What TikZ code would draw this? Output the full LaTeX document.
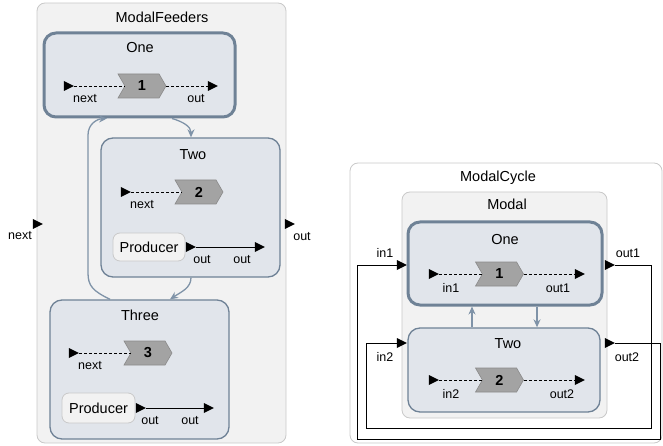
\documentclass[tikz,border=0pt]{standalone}
\usepackage{fontspec}
\setmainfont{Liberation Sans}
\usetikzlibrary{shapes.geometric,shapes.symbols,arrows.meta}
\definecolor{boxgray}{HTML}{F2F2F2}
\definecolor{boxline}{HTML}{C9C9C9}
\definecolor{modefill}{HTML}{E1E5EB}
\definecolor{modeline}{HTML}{6F8296}
\definecolor{transcol}{HTML}{7F93A8}
\definecolor{chevgray}{HTML}{A3A3A3}
\definecolor{chevline}{HTML}{8A8A8A}
\newcommand{\portsize}{10pt}
\newcommand{\titlefont}{\fontsize{14.5}{16}\selectfont}
\newcommand{\labelfont}{\fontsize{12.5}{14}\selectfont}

\begin{document}
\begin{tikzpicture}[x=1pt,y=-1pt,
    container/.style={draw=boxline, fill=boxgray, rounded corners=8pt, line width=0.8pt, inner sep=0pt},
    mode/.style={draw=modeline, fill=modefill, rounded corners=12pt, line width=1.3pt, inner sep=0pt},
    initial/.style={mode, line width=3pt},
    title/.style={font=\titlefont},
    lbl/.style={font=\labelfont},
    port/.style={isosceles triangle, isosceles triangle stretches, fill=black, inner sep=0pt,
        minimum width=\portsize, minimum height=\portsize},
    chev/.style={signal, signal to=east, signal from=west, signal pointer angle=120,
        fill=chevgray, draw=chevline, line width=0.6pt, minimum width=48pt, minimum height=24pt,
        inner sep=0pt, font=\titlefont\bfseries},
    actor/.style={draw=boxline, fill=boxgray, rounded corners=7pt, line width=0.8pt, inner sep=0pt, font=\titlefont},
    conn/.style={densely dashed, line width=0.8pt},
    wire/.style={line width=0.9pt},
    trans/.style={draw=transcol, line width=1.3pt, -{Stealth[length=8pt,width=7pt]}}]
    \useasboundingbox (0,0) rectangle (663,446);

    % ModalFeeders
        \node (feeders) at (161.5,223) [container, minimum width=249pt, minimum height=440pt] {};
        \node (feedersT) at (162,17) [title] {ModalFeeders};
        \node (fNext) at (36,224) [port] {};
        \node (fOut) at (288,224) [port] {};
        \node (fNextL) at (20,236) [lbl] {next};
        \node (fOutL) at (302,237) [lbl] {out};

        \node (oneA) at (139.5,75) [initial, minimum width=191pt, minimum height=84pt] {};
        \node (oneAT) at (140,48) [title] {One};
        \node (pA1) at (67,86) [port] {};
        \node (cA1) at (142,86) [chev] {1};
        \node (qA1) at (211,86) [port] {};
        \node (pA1L) at (85,99) [lbl] {next};
        \node (qA1L) at (196,99) [lbl] {out};

        \node (twoA) at (190.5,207.5) [mode, minimum width=179pt, minimum height=139pt] {};
        \node (twoAT) at (193,155) [title] {Two};
        \node (pA2) at (124,192) [port] {};
        \node (cA2) at (199,192) [chev] {2};
        \node (pA2L) at (142,205) [lbl] {next};
        \node (prodA) at (149,247) [actor, minimum width=72pt, minimum height=28pt] {Producer};
        \node (prodAo) at (189,247) [port] {};
        \node (qA2) at (258,247) [port] {};
        \node (prodAoL) at (202,260) [lbl] {out};
        \node (qA2L) at (242,260) [lbl] {out};

        \node (threeA) at (139.5,369.5) [mode, minimum width=179pt, minimum height=139pt] {};
        \node (threeAT) at (140,315) [title] {Three};
        \node (pA3) at (72,353) [port] {};
        \node (cA3) at (148,353) [chev] {3};
        \node (pA3L) at (90,366) [lbl] {next};
        \node (prodB) at (98.5,408) [actor, minimum width=73pt, minimum height=30pt] {Producer};
        \node (prodBo) at (139,408) [port] {};
        \node (qA3) at (207,408) [port] {};
        \node (prodBoL) at (150,421) [lbl] {out};
        \node (qA3L) at (190,421) [lbl] {out};

        \draw[conn] (pA1.east) -- (cA1.west) (cA1.east) -- (qA1.west);
        \draw[conn] (pA2.east) -- (cA2.west);
        \draw[conn] (pA3.east) -- (cA3.west);
        \draw[wire] (prodAo.east) -- (qA2.west);
        \draw[wire] (prodBo.east) -- (qA3.west);

        \draw[trans] ([xshift=32.5pt]oneA.south) .. controls (184,122) and (191,127) .. ([xshift=0.5pt]twoA.north);
        \draw[trans] ([xshift=0.5pt]twoA.south) .. controls (191,288) and (181,292) .. ([xshift=30.5pt]threeA.north);
        \draw[trans] ([xshift=-29.5pt]threeA.north) .. controls (93,291) and (88,286) .. (88,273)
            -- (88,135) .. controls (88,124) and (97,119) .. ([xshift=-32.5pt]oneA.south);

    % ModalCycle
        \node (cycle) at (506,303) [container, fill=white, minimum width=312pt, minimum height=280pt] {};
        \node (cycleT) at (498,178) [title] {ModalCycle};
        \node (modal) at (504.5,305) [container, minimum width=205pt, minimum height=226pt] {};
        \node (modalT) at (507,204) [title] {Modal};
        \node (in1) at (400,265) [port] {};
        \node (out1) at (608,265) [port] {};
        \node (in2) at (400,343) [port] {};
        \node (out2) at (608,343) [port] {};
        \node (in1L) at (385,253) [lbl] {in1};
        \node (out1L) at (628,253) [lbl] {out1};
        \node (in2L) at (385,357) [lbl] {in2};
        \node (out2L) at (627,357) [lbl] {out2};

        \node (oneB) at (505,263.5) [initial, minimum width=194pt, minimum height=83pt] {};
        \node (oneBT) at (505,240) [title] {One};
        \node (pB1) at (432,274) [port] {};
        \node (cB1) at (499.5,274) [chev] {1};
        \node (qB1) at (578,274) [port] {};
        \node (pB1L) at (451,288) [lbl] {in1};
        \node (qB1L) at (558,288) [lbl] {out1};

        \node (twoB) at (504,370) [mode, minimum width=192pt, minimum height=84pt] {};
        \node (twoBT) at (508,344) [title] {Two};
        \node (pB2) at (432,380) [port] {};
        \node (cB2) at (499.5,380) [chev] {2};
        \node (qB2) at (578,380) [port] {};
        \node (pB2L) at (451,394) [lbl] {in2};
        \node (qB2L) at (562,394) [lbl] {out2};

        \draw[conn] (pB1.east) -- (cB1.west) (cB1.east) -- (qB1.west);
        \draw[conn] (pB2.east) -- (cB2.west) (cB2.east) -- (qB2.west);

        \draw[trans] ([xshift=-32pt]twoB.north) -- ([xshift=-33pt]oneB.south);
        \draw[trans] ([xshift=32pt]oneB.south) -- ([xshift=33pt]twoB.north);

        % feedback wires
        \draw[wire] (out1.east) -- (651,265) -- (651,428) -- (366,428) -- (366,343) -- (in2.west);
        \draw[wire] (out2.east) -- (660,343) -- (660,439) -- (357,439) -- (357,265) -- (in1.west);

\end{tikzpicture}
\end{document}
